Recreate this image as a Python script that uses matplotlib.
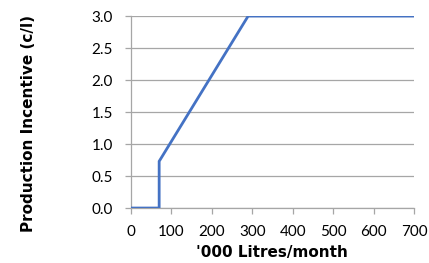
import matplotlib.pyplot as plt

# data
litres = [0, 70, 70, 290, 700]
incentive = [0.0, 0.0, 0.73, 3.0, 3.0]
x_ticks = [0, 100, 200, 300, 400, 500, 600, 700]
y_ticks = [0.0, 0.5, 1.0, 1.5, 2.0, 2.5, 3.0]

plt.rcParams['font.family'] = ['Lato', 'DejaVu Sans']

fig = plt.figure(figsize=(4.29, 2.63), dpi=100)
ax = fig.add_axes([0.305, 0.209, 0.66, 0.73])

ax.plot(litres, incentive, color='#4472C4', linewidth=2, solid_joinstyle='miter', zorder=3)

ax.set_xlim(0, 700)
ax.set_ylim(0, 3.0)
ax.set_xticks(x_ticks)
ax.set_yticks(y_ticks)
ax.set_yticklabels([f"{v:.1f}" for v in y_ticks])
ax.grid(axis='y', color='#A6A6A6', linewidth=0.9)
ax.set_axisbelow(True)

for s in ['top', 'right']:
    ax.spines[s].set_visible(False)
for s in ['left', 'bottom']:
    ax.spines[s].set_color('#A6A6A6')
    ax.spines[s].set_linewidth(0.9)

ax.tick_params(axis='both', colors='#A6A6A6', labelcolor='black', labelsize=11, length=4, width=0.9)
ax.tick_params(axis='y', pad=9)
ax.tick_params(axis='x', pad=8)

ax.set_xlabel("'000 Litres/month", fontsize=11, fontweight='bold', family=['DejaVu Sans'])
ax.set_ylabel("Production Incentive (c/l)", fontsize=11, fontweight='bold', family=['DejaVu Sans'])
ax.xaxis.set_label_coords(0.5, -0.23)
ax.yaxis.set_label_coords(-0.3625, 0.44)
ax.xaxis.label.set_va('center')
ax.yaxis.label.set_va('center')

fig.savefig('out.png', dpi=100)
